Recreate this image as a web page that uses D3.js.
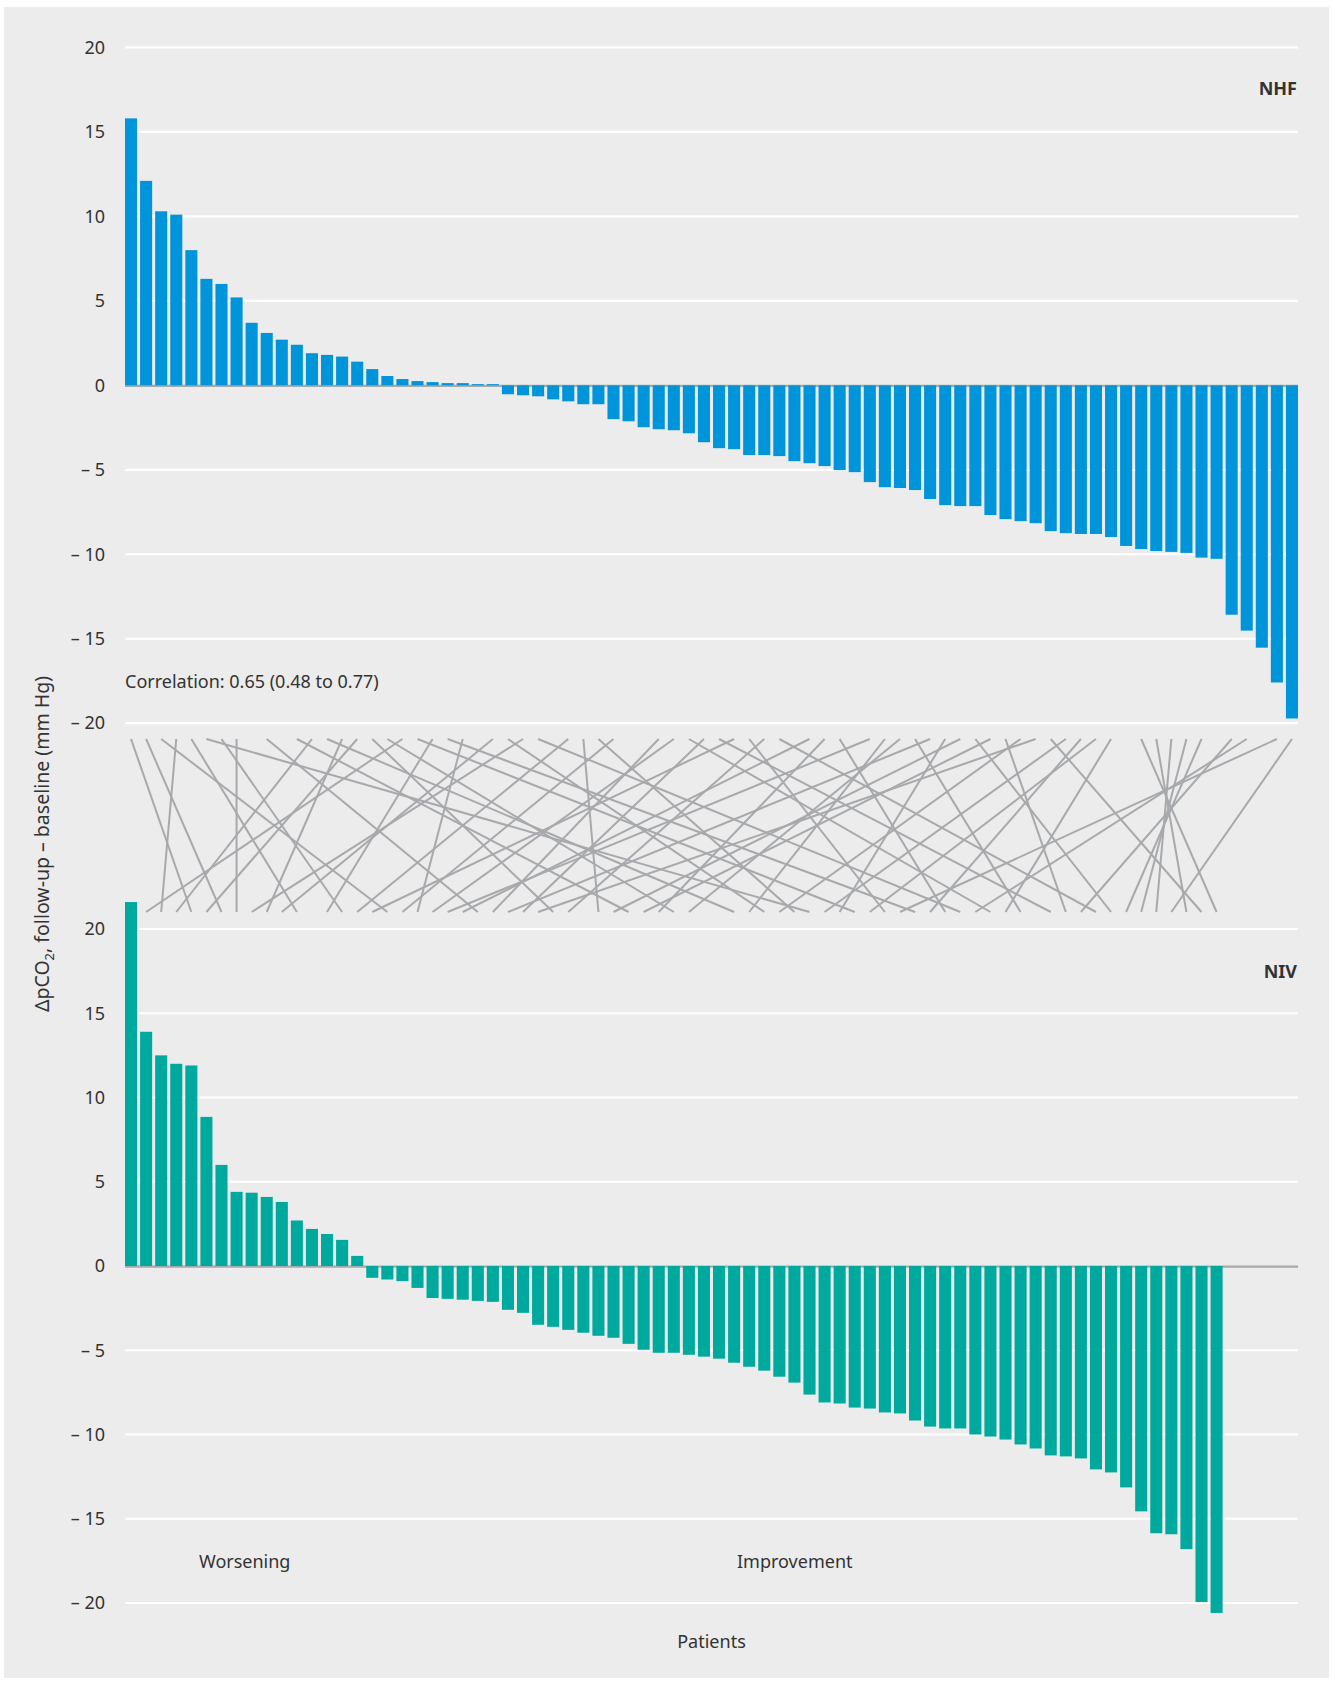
<!DOCTYPE html>
<html>
<head>
<meta charset="utf-8">
<script src="https://cdn.jsdelivr.net/npm/d3@7"></script>
<style>
  body { margin: 0; background: #ffffff; }
  svg { display: block; }
  text { font-family: "Noto Sans", "Open Sans", sans-serif; fill: #333333; }
</style>
</head>
<body>
<svg id="chart" width="1335" height="1682"></svg>
<script>
// ΔpCO2 (follow-up − baseline, mm Hg) per patient, sorted from worsening to improvement
const nhfValues = [
  15.8, 12.1, 10.3, 10.1, 8.0, 6.3, 6.0, 5.2, 3.7, 3.1, 2.7, 2.4, 1.9, 1.8, 1.7, 1.4,
  0.96, 0.55, 0.37, 0.25, 0.19, 0.13, 0.13, 0.07, 0.07,
  -0.53, -0.59, -0.65, -0.83, -0.95, -1.12, -1.12, -2.0, -2.13, -2.48, -2.6, -2.66, -2.84,
  -3.37, -3.72, -3.78, -4.13, -4.13, -4.19, -4.49, -4.61, -4.78, -5.02, -5.14, -5.73,
  -6.03, -6.08, -6.2, -6.73, -7.09, -7.15, -7.15, -7.68, -7.92, -8.04, -8.16, -8.63,
  -8.75, -8.8, -8.8, -8.98, -9.51, -9.69, -9.81, -9.86, -9.92, -10.2, -10.27,
  -13.58, -14.52, -15.53, -17.59, -19.72
];
const nivValues = [
  21.6, 13.9, 12.5, 12.0, 11.9, 8.85, 6.0, 4.4, 4.35, 4.1, 3.8, 2.7, 2.2, 1.9, 1.55, 0.6,
  -0.7, -0.8, -0.9, -1.3, -1.9, -1.95, -2.0, -2.07, -2.13, -2.6, -2.78, -3.49, -3.61,
  -3.79, -3.96, -4.14, -4.26, -4.62, -4.97, -5.15, -5.15, -5.27, -5.38, -5.5, -5.74,
  -5.98, -6.21, -6.57, -6.92, -7.63, -8.1, -8.16, -8.4, -8.46, -8.69, -8.75, -9.17,
  -9.53, -9.64, -9.64, -10.0, -10.12, -10.3, -10.59, -10.83, -11.24, -11.3, -11.42,
  -12.07, -12.25, -13.14, -14.56, -15.86, -15.92, -16.8, -19.94, -20.59
];
// patients measured under both: [rank under NHF, rank under NIV]
const links = [
  [0,4],[1,6],[2,17],[3,2],[4,11],[5,45],[6,14],[7,7],[9,23],[11,33],[12,3],[13,40],
  [14,9],[15,5],[16,28],[17,36],[18,1],[19,48],[20,13],[21,52],[22,19],[24,10],
  [25,42],[26,8],[27,55],[29,15],[30,31],[31,44],[32,18],[35,24],[36,20],[37,57],
  [38,26],[39,61],[40,16],[41,50],[42,29],[43,64],[45,22],[46,35],[47,54],[49,21],
  [50,41],[51,37],[52,59],[53,25],[54,47],[55,32],[56,65],[57,34],[58,62],[59,43],
  [60,27],[61,71],[62,46],[63,53],[64,49],[65,58],[67,72],[68,70],[69,68],[70,67],
  [71,66],[73,63],[74,56],[76,51],[77,69]
];
const tickValues = [20, 15, 10, 5, 0, -5, -10, -15, -20];
const tickLabels = ["20", "15", "10", "5", "0", "\u2013 5", "\u2013 10", "\u2013 15", "\u2013 20"];
const panelNames = ["NHF", "NIV"];
const barColors = ["#0095da", "#00a99d"];

const svg = d3.select("#chart");
svg.append("rect").attr("x", 4).attr("y", 7).attr("width", 1325).attr("height", 1671)
  .attr("fill", "#ebeceb");

const x = d3.scaleBand()
  .domain(d3.range(nhfValues.length))
  .range([125, 1298])
  .paddingInner(0.2)
  .paddingOuter(0);

const yTop = d3.scaleLinear().domain([-20, 20]).range([723.2, 47.4]);
const yBot = d3.scaleLinear().domain([-20, 20]).range([1603, 929]);

function panel(values, y, color, name, labelY) {
  const g = svg.append("g");
  // white gridlines
  g.selectAll("line.grid").data(tickValues.filter(v => v !== 0)).join("line")
    .attr("x1", 125).attr("x2", 1298)
    .attr("y1", d => y(d)).attr("y2", d => y(d))
    .attr("stroke", "#ffffff").attr("stroke-width", 2.2);
  // zero line
  g.append("line").attr("x1", 125).attr("x2", 1298)
    .attr("y1", y(0) + 0.6).attr("y2", y(0) + 0.6)
    .attr("stroke", "#a7a9ac").attr("stroke-width", 2.2);
  // tick labels
  const axis = d3.axisLeft(y).tickValues(tickValues)
    .tickFormat((d, i) => tickLabels[i]).tickSize(0).tickPadding(0);
  const ag = g.append("g").attr("transform", "translate(105,0)").call(axis);
  ag.select(".domain").remove();
  ag.selectAll("text").attr("font-size", 18).attr("fill", "#333333")
    .attr("font-family", "'Noto Sans', sans-serif");
  // bars
  g.selectAll("rect.bar").data(values).join("rect")
    .attr("x", (d, i) => x(i))
    .attr("width", x.bandwidth())
    .attr("y", d => y(Math.max(0, d)))
    .attr("height", d => Math.abs(y(d) - y(0)))
    .attr("fill", color);
  g.append("text").attr("x", 1297).attr("y", labelY)
    .attr("text-anchor", "end").attr("font-size", 18).attr("font-weight", "bold")
    .attr("fill", "#222222").text(name);
}

panel(nhfValues, yTop, barColors[0], panelNames[0], 95);
panel(nivValues, yBot, barColors[1], panelNames[1], 978);

// connectors between the two rankings of each patient
const linkTop = 739, linkBottom = 912;
const cx = i => x(i) + x.bandwidth() / 2;
svg.append("g").selectAll("line").data(links).join("line")
  .attr("x1", d => cx(d[0])).attr("y1", linkTop)
  .attr("x2", d => cx(d[1])).attr("y2", linkBottom)
  .attr("stroke", "#a7a9ac").attr("stroke-width", 2);

svg.append("text").attr("x", 125).attr("y", 688).attr("font-size", 18)
  .text("Correlation: 0.65 (0.48 to 0.77)");

svg.append("text").attr("x", 199).attr("y", 1568).attr("font-size", 18).text("Worsening");
svg.append("text").attr("x", 737).attr("y", 1568).attr("font-size", 18).text("Improvement");
svg.append("text").attr("x", 711.5).attr("y", 1648).attr("font-size", 18)
  .attr("text-anchor", "middle").text("Patients");

const yt = svg.append("text").attr("transform", "translate(49,844) rotate(-90)")
  .attr("text-anchor", "middle").attr("font-size", 19.5);
yt.append("tspan").text("\u0394pCO");
yt.append("tspan").attr("font-size", 13).attr("dy", 5).text("2");
yt.append("tspan").attr("dy", -5).text(", follow-up \u2013 baseline (mm Hg)");
</script>
</body>
</html>
